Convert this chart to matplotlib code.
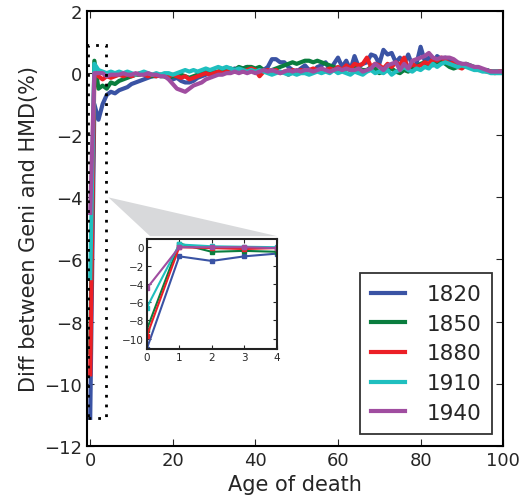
import numpy as np
import matplotlib.pyplot as plt
from matplotlib.patches import Rectangle, Polygon

ages = np.arange(0, 101)

d1820 = [-11.1, -1.0, -1.5, -1.0, -0.7, -0.6, -0.65, -0.55, -0.5, -0.45,
         -0.35, -0.3, -0.25, -0.2, -0.15, -0.1, -0.1, -0.05, -0.1, -0.15,
         -0.2, -0.15, -0.25, -0.3, -0.3, -0.25, -0.15, -0.1, -0.05, 0.0,
         0.05, 0.0, 0.05, 0.1, 0.1, 0.15, 0.1, 0.15, 0.2, 0.1,
         0.05, 0.15, 0.1, 0.2, 0.45, 0.45, 0.35, 0.35, 0.2, 0.1,
         0.05, 0.15, 0.25, 0.1, 0.05, 0.2, 0.25, 0.35, 0.1, 0.3,
         0.5, 0.2, 0.4, 0.1, 0.55, 0.2, 0.3, 0.35, 0.6, 0.55,
         0.3, 0.75, 0.6, 0.65, 0.35, 0.5, 0.3, 0.6, 0.25, 0.3,
         0.85, 0.4, 0.5, 0.25, 0.55, 0.45, 0.5, 0.4, 0.35, 0.3,
         0.3, 0.25, 0.2, 0.15, 0.15, 0.1, 0.1, 0.05, 0.05, 0.05, 0.05]
d1850 = [-9.0, 0.4, -0.5, -0.4, -0.5, -0.3, -0.35, -0.25, -0.2, -0.15,
         -0.1, -0.05, -0.05, 0.0, -0.05, -0.1, -0.05, -0.1, -0.1, -0.15,
         -0.1, -0.1, -0.05, -0.1, -0.15, -0.1, -0.05, 0.0, 0.05, 0.05,
         0.0, 0.05, 0.1, 0.1, 0.15, 0.1, 0.2, 0.15, 0.2, 0.2,
         0.15, 0.2, 0.1, 0.05, 0.1, 0.15, 0.2, 0.25, 0.3, 0.35,
         0.3, 0.35, 0.4, 0.4, 0.35, 0.4, 0.35, 0.3, 0.25, 0.2,
         0.15, 0.1, 0.15, 0.1, 0.2, 0.15, 0.1, 0.1, 0.2, 0.15,
         0.0, 0.05, 0.1, 0.15, 0.05, 0.0, 0.1, 0.05, 0.15, 0.2,
         0.3, 0.35, 0.25, 0.3, 0.35, 0.4, 0.3, 0.2, 0.15, 0.2,
         0.25, 0.3, 0.25, 0.2, 0.15, 0.1, 0.1, 0.05, 0.05, 0.05, 0.05]
d1880 = [-9.7, 0.0, -0.1, -0.2, -0.1, -0.15, -0.1, -0.05, -0.1, -0.05,
         -0.1, -0.05, 0.0, -0.05, -0.1, -0.05, -0.1, -0.05, -0.1, -0.1,
         -0.05, -0.1, -0.15, -0.1, -0.2, -0.15, -0.1, -0.05, 0.0, -0.05,
         0.0, 0.05, 0.0, 0.05, 0.1, 0.05, 0.1, 0.05, 0.1, 0.15,
         0.1, -0.1, 0.05, 0.1, 0.05, 0.1, 0.0, 0.05, -0.05, 0.1,
         0.05, 0.1, 0.05, 0.1, 0.15, 0.1, 0.05, 0.1, 0.15, 0.1,
         0.2, 0.1, 0.25, 0.15, 0.3, 0.25, 0.3, 0.5, 0.2, 0.3,
         0.25, 0.15, 0.3, 0.2, 0.35, 0.25, 0.5, 0.15, 0.3, 0.2,
         0.25, 0.35, 0.3, 0.45, 0.4, 0.5, 0.4, 0.3, 0.35, 0.2,
         0.15, 0.25, 0.2, 0.15, 0.1, 0.1, 0.05, 0.05, 0.0, 0.05, 0.05]
d1910 = [-6.6, 0.3, 0.1, 0.05, 0.0, 0.05, 0.0, 0.05, 0.0, 0.05,
         0.0, -0.05, 0.0, 0.05, 0.0, -0.05, 0.0, -0.05, 0.0, 0.0,
         -0.05, 0.0, 0.05, 0.1, 0.05, 0.1, 0.05, 0.1, 0.15, 0.1,
         0.15, 0.2, 0.15, 0.2, 0.15, 0.1, 0.15, 0.1, 0.05, 0.1,
         0.05, 0.1, 0.05, 0.0, -0.05, 0.0, 0.05, 0.0, -0.05, 0.0,
         -0.05, 0.0, 0.0, -0.05, 0.0, 0.05, 0.0, 0.05, 0.0, 0.1,
         0.0, 0.05, 0.0, -0.05, 0.05, 0.0, -0.05, 0.05, 0.1, 0.0,
         0.05, 0.0, 0.1, -0.05, 0.05, 0.1, 0.2, 0.1, 0.05, 0.15,
         0.1, 0.2, 0.15, 0.3, 0.2, 0.3, 0.35, 0.3, 0.25, 0.2,
         0.25, 0.2, 0.15, 0.1, 0.1, 0.05, 0.05, 0.0, 0.0, 0.0, 0.0]
d1940 = [-4.5, 0.0, 0.0, 0.0, -0.1, -0.05, -0.05, -0.05, 0.0, -0.05,
         -0.05, 0.0, -0.05, -0.05, 0.0, -0.05, -0.05, -0.1, -0.1, -0.2,
         -0.35, -0.5, -0.55, -0.6, -0.5, -0.4, -0.35, -0.3, -0.2, -0.15,
         -0.1, -0.05, -0.05, 0.0, 0.0, 0.05, 0.0, 0.05, 0.0, 0.05,
         0.0, 0.05, 0.1, 0.05, 0.1, 0.05, 0.0, 0.05, 0.1, 0.05,
         0.1, 0.05, 0.1, 0.1, 0.05, 0.1, 0.15, 0.1, 0.05, 0.1,
         0.15, 0.1, 0.15, 0.1, 0.1, 0.15, 0.05, 0.1, 0.15, 0.3,
         0.2, 0.1, 0.25, 0.3, 0.35, 0.1, 0.3, 0.15, 0.4, 0.45,
         0.5, 0.55, 0.65, 0.5, 0.45, 0.5, 0.5, 0.5, 0.45, 0.35,
         0.3, 0.3, 0.25, 0.2, 0.2, 0.15, 0.1, 0.05, 0.05, 0.05, 0.05]

cohorts = ['1820', '1850', '1880', '1910', '1940']
series = [d1820, d1850, d1880, d1910, d1940]
colors = ['#3a53a4', '#0a7d3e', '#ec1f26', '#1fbfbf', '#a04da0']

plt.rcParams['font.family'] = 'DejaVu Sans'
plt.rcParams['text.color'] = '#262626'

fig = plt.figure(figsize=(5.28, 5.02), dpi=100)
ax = fig.add_axes([0.165, 0.110, 0.788, 0.866])

for name, vals, c in zip(cohorts, series, colors):
    ax.plot(ages, vals, color=c, lw=3, label=name)

ax.set_xlim(-0.75, 100)
ax.set_ylim(-12, 2)
ax.set_xticks([0, 20, 40, 60, 80, 100])
ax.set_yticks(range(-12, 3, 2))
ax.tick_params(direction='in', top=True, right=True, labelsize=13,
               colors='#262626', length=5)
for s in ax.spines.values():
    s.set_linewidth(1.5)
    s.set_color('black')
ax.set_xlabel('Age of death', fontsize=15, color='#262626')
ax.set_ylabel('Diff between Geni and HMD(%)', fontsize=15, color='#262626')

# dashed zoom box and connector
ax.add_patch(Rectangle((-0.5, -11.1), 4.4, 12.0, fill=False, ls=(0, (1, 2.5)),
                       lw=2, ec='black', zorder=5))
ax.add_patch(Polygon([(4.4, -4.0), (14.5, -5.25), (45.3, -5.25)],
                     closed=True, fc='#d8d9db', ec='none', zorder=1))

leg = ax.legend(loc='lower right', fontsize=15.5, handlelength=1.6,
                borderpad=0.5, labelspacing=0.45, handletextpad=1.0,
                borderaxespad=0, fancybox=False,
                bbox_to_anchor=(0.974, 0.028))
leg.get_frame().set_edgecolor('black')
leg.get_frame().set_linewidth(1.3)
for h in leg.get_lines():
    h.set_linewidth(3)

# inset
ins = fig.add_axes([0.278, 0.303, 0.246, 0.219])
for vals, c in zip(series, colors):
    ins.plot(ages[:5], vals[:5], color=c, lw=1.5, marker='s', ms=2.5)
ins.set_xlim(0, 4)
ins.set_ylim(-11.1, 0.9)
ins.set_xticks([0, 1, 2, 3, 4])
ins.set_yticks([0, -2, -4, -6, -8, -10])
ins.tick_params(direction='in', top=True, right=True, labelsize=7.5,
                colors='#262626', length=3, pad=2)
for s in ins.spines.values():
    s.set_linewidth(1.5)
    s.set_color('#222222')

fig.savefig('out.png', dpi=100)
